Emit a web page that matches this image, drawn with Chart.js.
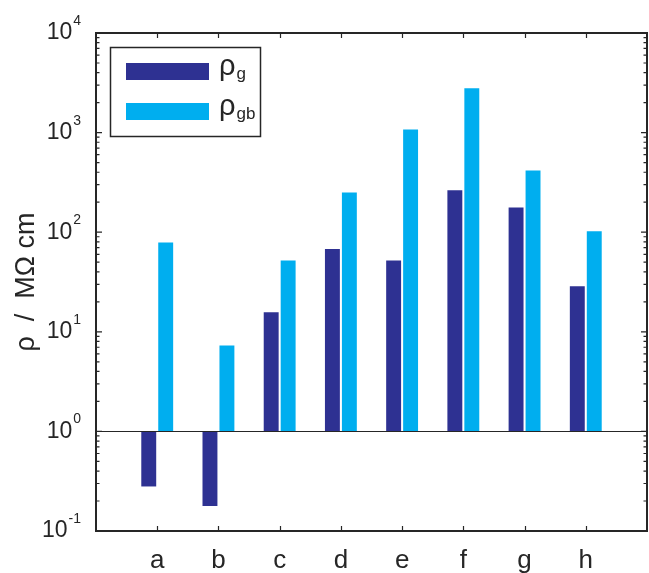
<!DOCTYPE html>
<html>
<head>
<meta charset="utf-8">
<script src="https://cdn.jsdelivr.net/npm/chart.js@4"></script>
<style>
  body { margin: 0; background: #fff; }
  #wrap { width: 649px; height: 573px; }
</style>
</head>
<body>
<div id="wrap"><canvas id="chart"></canvas></div>
<script>
const categories = ["a", "b", "c", "d", "e", "f", "g", "h"];
const rhoG = [0.28, 0.178, 15.7, 68, 52, 263, 177, 28.6];
const rhoGB = [79, 7.3, 52, 251, 1077, 2780, 417, 102];
const yTickExps = [-1, 0, 1, 2, 3, 4];
const baseline = 1;

const darkBlue = "#2e3192";
const lightBlue = "#00aeef";
const ink = "#262626";

// empty slot at each end so the categories sit at 1..8 of 0..9
const labels = ["", ...categories, ""];
const asFloating = vals => [null, ...vals.map(v => [baseline, v]), null];

const framePlugin = {
  id: "frame",
  afterDatasetsDraw(chart) {
    const { ctx, chartArea: a, scales } = chart;
    const x = scales.x, y = scales.y;
    ctx.save();

    // line at 10^0
    ctx.strokeStyle = ink;
    ctx.lineWidth = 1.2;
    const y0 = Math.round(y.getPixelForValue(baseline)) + 0.5;
    ctx.beginPath();
    ctx.moveTo(a.left, y0);
    ctx.lineTo(a.right, y0);
    ctx.stroke();

    // box
    ctx.lineWidth = 2;
    ctx.strokeRect(a.left, a.top, a.right - a.left, a.bottom - a.top);

    // log ticks, left and right, pointing inward
    ctx.lineWidth = 1.2;
    ctx.beginPath();
    for (let i = 0; i < yTickExps.length; i++) {
      const e = yTickExps[i];
      const py = y.getPixelForValue(Math.pow(10, e));
      ctx.moveTo(a.left, py); ctx.lineTo(a.left + 6, py);
      ctx.moveTo(a.right, py); ctx.lineTo(a.right - 6, py);
      if (i < yTickExps.length - 1) {
        for (let m = 2; m <= 9; m++) {
          const pm = y.getPixelForValue(m * Math.pow(10, e));
          ctx.moveTo(a.left, pm); ctx.lineTo(a.left + 3.5, pm);
          ctx.moveTo(a.right, pm); ctx.lineTo(a.right - 3.5, pm);
        }
      }
    }
    // category ticks, top and bottom
    categories.forEach((c, i) => {
      const px = Math.round(x.getPixelForValue(i + 1)) + 0.5;
      ctx.moveTo(px, a.top); ctx.lineTo(px, a.top + 5);
      ctx.moveTo(px, a.bottom); ctx.lineTo(px, a.bottom - 5);
    });
    ctx.stroke();

    // y tick labels 10^n
    ctx.fillStyle = ink;
    yTickExps.forEach(e => {
      const py = y.getPixelForValue(Math.pow(10, e));
      ctx.font = "14px 'Liberation Sans', Arial, sans-serif";
      const sup = String(e);
      const sw = ctx.measureText(sup).width;
      ctx.textAlign = "left";
      ctx.textBaseline = "alphabetic";
      ctx.fillText(sup, 81 - sw, py - 8);
      ctx.font = "23px 'Liberation Sans', Arial, sans-serif";
      ctx.textAlign = "right";
      ctx.textBaseline = "middle";
      ctx.fillText("10", 81 - sw - 1, py);
    });

    // category labels
    ctx.font = "26px 'Liberation Sans', Arial, sans-serif";
    ctx.textAlign = "center";
    ctx.textBaseline = "alphabetic";
    categories.forEach((c, i) => {
      ctx.fillText(c, x.getPixelForValue(i + 1), 568);
    });

    // y axis title
    ctx.save();
    ctx.translate(27, (a.top + a.bottom) / 2);
    ctx.rotate(-Math.PI / 2);
    ctx.font = "27px 'Liberation Sans', Arial, sans-serif";
    ctx.textAlign = "center";
    ctx.textBaseline = "middle";
    ctx.fillText("ρ  /  MΩ cm", 0, 0);
    ctx.restore();

    // legend
    ctx.fillStyle = "#fff";
    ctx.fillRect(110, 47, 150, 89);
    ctx.strokeStyle = ink;
    ctx.lineWidth = 1.5;
    ctx.strokeRect(110.5, 47.5, 150, 89);
    const items = [
      { color: darkBlue, sub: "g", top: 63 },
      { color: lightBlue, sub: "gb", top: 103 }
    ];
    items.forEach(it => {
      ctx.fillStyle = it.color;
      ctx.fillRect(126, it.top, 83, 17);
      ctx.fillStyle = ink;
      ctx.textAlign = "left";
      ctx.textBaseline = "alphabetic";
      ctx.font = "29px 'Liberation Sans', Arial, sans-serif";
      ctx.fillText("ρ", 219, it.top + 12);
      const w = ctx.measureText("ρ").width;
      ctx.font = "17px 'Liberation Sans', Arial, sans-serif";
      ctx.fillText(it.sub, 219 + w + 1, it.top + 16);
    });

    ctx.restore();
  }
};

new Chart(document.getElementById("chart"), {
  type: "bar",
  data: {
    labels: labels,
    datasets: [
      {
        label: "ρg",
        data: asFloating(rhoG),
        backgroundColor: darkBlue,
        borderWidth: 0,
        borderSkipped: false
      },
      {
        label: "ρgb",
        data: asFloating(rhoGB),
        backgroundColor: lightBlue,
        borderWidth: 0,
        borderSkipped: false
      }
    ]
  },
  options: {
    responsive: true,
    maintainAspectRatio: false,
    animation: false,
    layout: { padding: { left: 96, top: 33, right: 2, bottom: 42 } },
    datasets: { bar: { categoryPercentage: 0.554, barPercentage: 0.88 } },
    scales: {
      x: { type: "category", offset: false, display: false },
      y: { type: "logarithmic", min: 0.1, max: 10000, display: false }
    },
    plugins: { legend: { display: false }, tooltip: { enabled: false } }
  },
  plugins: [framePlugin]
});
</script>
</body>
</html>
